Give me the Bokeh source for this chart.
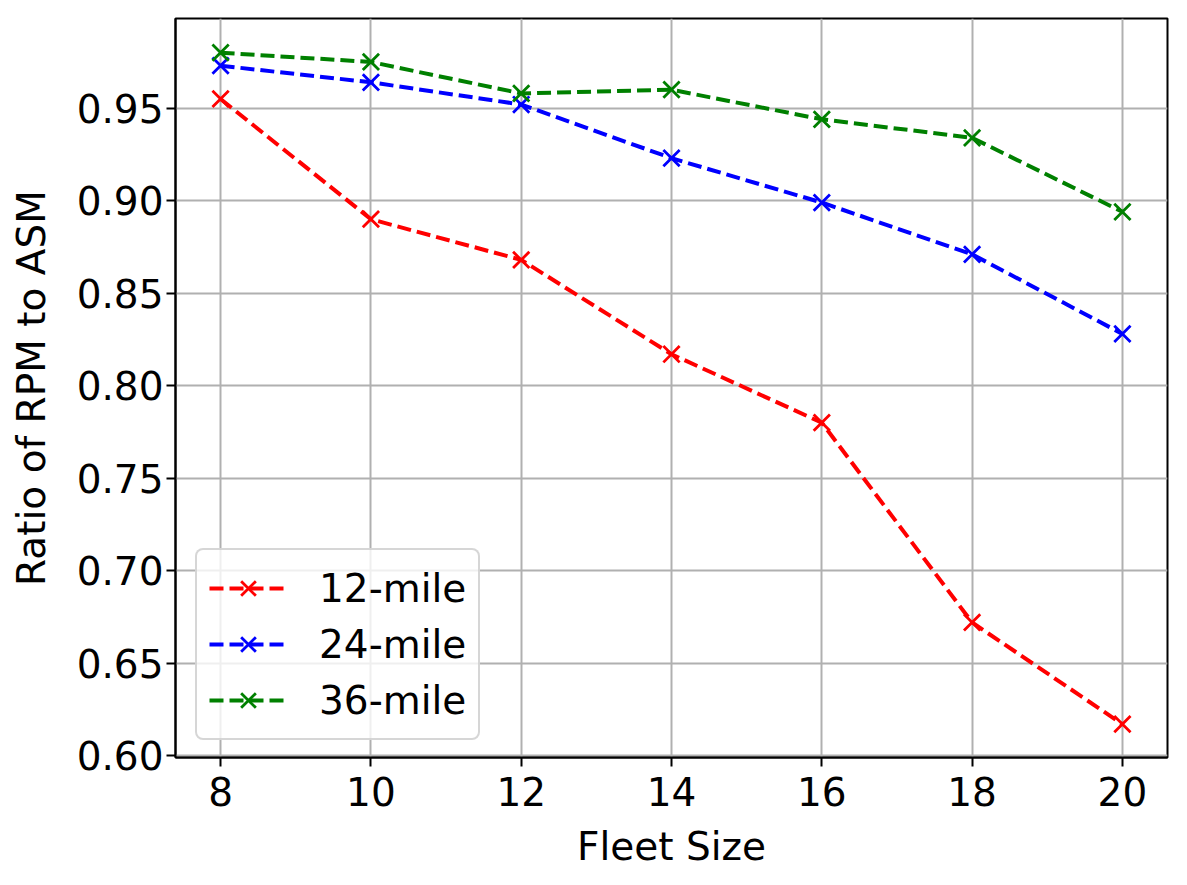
from bokeh.plotting import figure
from bokeh.models import FixedTicker, PrintfTickFormatter, Range1d
from bokeh.embed import file_html
from bokeh.resources import INLINE

fleet_size = [8, 10, 12, 14, 16, 18, 20]
ratio_12 = [0.955, 0.890, 0.868, 0.817, 0.780, 0.672, 0.617]
ratio_24 = [0.973, 0.964, 0.952, 0.923, 0.899, 0.871, 0.828]
ratio_36 = [0.980, 0.975, 0.958, 0.960, 0.944, 0.934, 0.894]
x_ticks = [8, 10, 12, 14, 16, 18, 20]
y_ticks = [0.60, 0.65, 0.70, 0.75, 0.80, 0.85, 0.90, 0.95]

series = [("12-mile", ratio_12, "red"), ("24-mile", ratio_24, "blue"), ("36-mile", ratio_36, "green")]

FONT = "DejaVu Sans"
FS = "39px"

p = figure(frame_width=992, frame_height=739, output_backend="svg", toolbar_location=None,
           x_range=Range1d(7.4, 20.6), y_range=Range1d(0.599, 0.9985),
           min_border_left=175, min_border_right=12, min_border_top=18, min_border_bottom=120)

for label, vals, color in series:
    p.line(fleet_size, vals, line_color=color, line_width=4, line_dash="14 6", legend_label=label)
    p.scatter(fleet_size, vals, marker="x", size=23, line_color=color, line_width=2.8, legend_label=label)

p.xaxis.ticker = FixedTicker(ticks=x_ticks)
p.yaxis.ticker = FixedTicker(ticks=y_ticks)
p.yaxis.formatter = PrintfTickFormatter(format="%.2f")
p.xaxis.axis_label = "Fleet Size"
p.yaxis.axis_label = "Ratio of RPM to ASM"

for ax in (p.xaxis, p.yaxis):
    ax.major_label_text_font = FONT
    ax.major_label_text_font_size = FS
    ax.major_label_text_color = "black"
    ax.axis_label_text_font = FONT
    ax.axis_label_text_font_size = FS
    ax.axis_label_text_font_style = "normal"
    ax.axis_label_text_color = "black"
    ax.axis_line_color = "black"
    ax.axis_line_width = 2
    ax.major_tick_line_color = "black"
    ax.major_tick_line_width = 2
    ax.major_tick_out = 9
    ax.major_tick_in = 0
    ax.minor_tick_line_color = None

p.yaxis.major_label_standoff = 3
p.yaxis.axis_label_standoff = 20
p.xaxis.major_label_standoff = 10
p.xaxis.axis_label_standoff = 15

p.xgrid.grid_line_color = "#b0b0b0"
p.ygrid.grid_line_color = "#b0b0b0"
p.xgrid.grid_line_width = 2
p.ygrid.grid_line_width = 2

p.outline_line_color = "black"
p.outline_line_width = 2
p.outline_line_alpha = 1

lg = p.legend[0]
lg.location = (20, 17)
lg.label_text_font = FONT
lg.label_text_font_size = FS
lg.label_text_color = "black"
lg.glyph_width = 78
lg.glyph_height = 52
lg.label_height = 40
lg.label_standoff = 32
lg.spacing = 4
lg.padding = 12
lg.margin = 0
lg.border_line_color = "#cccccc"
lg.border_line_width = 2
lg.border_line_alpha = 0.8
lg.background_fill_alpha = 0.8
lg.border_radius = 8

open("out.html", "w").write(file_html(p, INLINE))
